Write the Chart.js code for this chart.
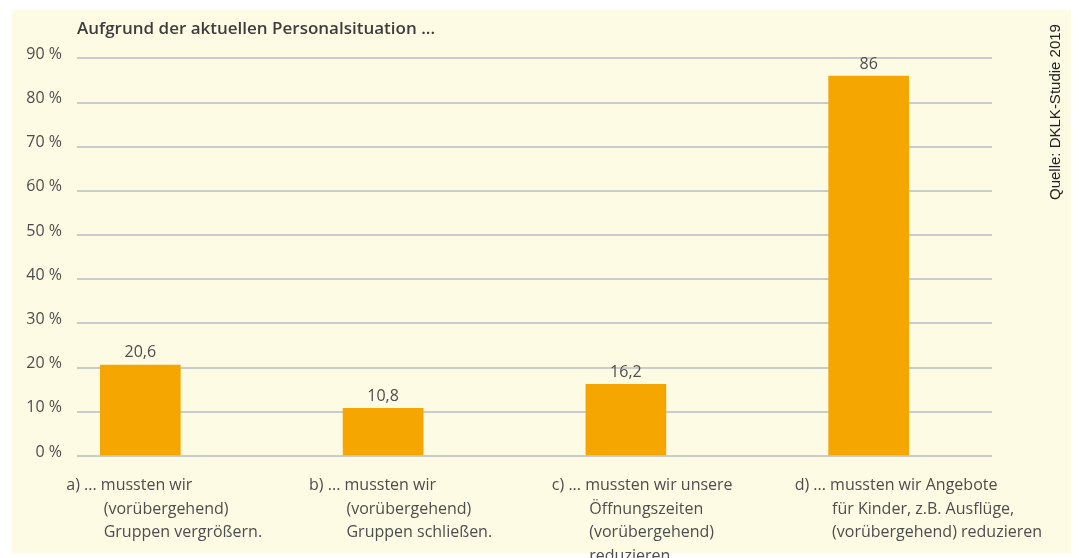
<!DOCTYPE html>
<html>
<head>
<meta charset="utf-8">
<script src="https://cdn.jsdelivr.net/npm/chart.js@4/dist/chart.umd.min.js"></script>
<style>
  html, body { margin: 0; padding: 0; background: #ffffff; overflow: hidden; }
  #panel { position: absolute; left: 12px; top: 10px; width: 1059px; height: 543px; background: #fefbe5; }
  #wrap { position: absolute; left: 0; top: 0; width: 1079px; height: 558px; }
  #source {
    position: absolute; left: 1046px; top: 200px;
    font-family: "Liberation Sans", Arial, sans-serif; font-size: 15px; line-height: 17px;
    color: #222; white-space: nowrap;
    transform: rotate(-90deg); transform-origin: left top;
  }
</style>
</head>
<body>
<div id="panel"></div>
<div id="wrap"><canvas id="bar-chart" width="1079" height="558"></canvas></div>
<div id="source">Quelle: DKLK-Studie 2019</div>
<script>
// Daten
var titleText = "Aufgrund der aktuellen Personalsituation ...";
var indent = "         ";
var categories = [
    ["a) ... mussten wir", indent + "(vorübergehend)", indent + "Gruppen vergrößern."],
    ["b) ... mussten wir", indent + "(vorübergehend)", indent + "Gruppen schließen."],
    ["c) ... mussten wir unsere", indent + "Öffnungszeiten", indent + "(vorübergehend)", indent + "reduzieren"],
    ["d) ... mussten wir Angebote", indent + "für Kinder, z.B. Ausflüge,", indent + "(vorübergehend) reduzieren"]
];
var values = [20.6, 10.8, 16.2, 86];
var yTicks = [0, 10, 20, 30, 40, 50, 60, 70, 80, 90];

var textColor = "#4d4d4d";
var fontFamily = "'Open Sans', 'Noto Sans', sans-serif";

// Werte über den Balken
var valueLabels = {
    id: "valueLabels",
    afterDatasetsDraw: function (chart) {
        var ctx = chart.ctx;
        var meta = chart.getDatasetMeta(0);
        ctx.save();
        ctx.font = "16px " + fontFamily;
        ctx.fillStyle = textColor;
        ctx.textAlign = "center";
        ctx.textBaseline = "alphabetic";
        meta.data.forEach(function (bar, i) {
            ctx.fillText(String(values[i]).replace(".", ","), bar.x, bar.y - 7.5);
        });
        ctx.restore();
    }
};

new Chart(document.getElementById("bar-chart"), {
    type: "bar",
    data: {
        datasets: [{
            data: values.map(function (v, i) { return {x: i, y: v}; }),
            backgroundColor: "#f6a600",
            borderWidth: 0,
            barThickness: 80
        }]
    },
    options: {
        responsive: false,
        animation: false,
        layout: {padding: {left: 0, right: 87, top: 0, bottom: 0}},
        plugins: {
            legend: {display: false},
            tooltip: {enabled: false},
            title: {
                display: true,
                text: titleText,
                align: "start",
                fullSize: false,
                color: "#3d3d3d",
                font: {family: fontFamily, size: 17, weight: "600", lineHeight: 1.2},
                padding: {top: 19, bottom: 19}
            }
        },
        scales: {
            x: {
                type: "linear",
                offset: false,
                min: -0.2607,
                max: 3.508,
                grid: {display: false, offset: false},
                border: {display: false},
                afterBuildTicks: function (axis) {
                    axis.ticks = categories.map(function (c, i) { return {value: i}; });
                },
                afterFit: function (axis) {
                    axis.height = 102;
                    axis.paddingLeft = 0;
                    axis.paddingRight = 0;
                },
                ticks: {
                    autoSkip: false,
                    maxRotation: 0,
                    minRotation: 0,
                    align: "start",
                    labelOffset: -74,
                    padding: 10,
                    color: textColor,
                    font: {family: fontFamily, size: 16, lineHeight: 1.47},
                    callback: function (v) { return categories[v]; }
                }
            },
            y: {
                min: 0,
                max: 90,
                grid: {color: "#cbcbcb", lineWidth: 2, drawTicks: false},
                border: {display: false},
                afterBuildTicks: function (axis) {
                    axis.ticks = yTicks.map(function (v) { return {value: v}; });
                },
                afterFit: function (axis) {
                    axis.width = 77;
                    axis.paddingTop = 0;
                    axis.paddingBottom = 0;
                },
                ticks: {
                    padding: 15,
                    labelOffset: -4,
                    color: textColor,
                    font: {family: fontFamily, size: 16},
                    callback: function (v) { return v + " %"; }
                }
            }
        }
    },
    plugins: [valueLabels]
});
</script>
</body>
</html>
